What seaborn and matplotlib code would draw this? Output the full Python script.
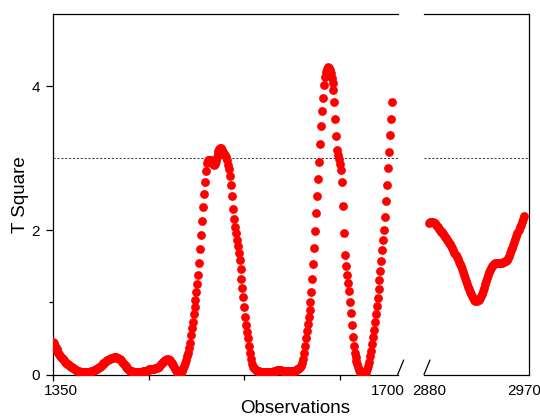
import numpy as np
import pandas as pd
import matplotlib
matplotlib.use("Agg")
import matplotlib.pyplot as plt
import matplotlib.transforms as mtransforms
import seaborn as sns

sns.set_style("white")
plt.rcParams["font.family"] = ["Liberation Sans", "DejaVu Sans"]

# ---------------- data ----------------
obs_left_start = 1350
t2_left = [
    0.45, 0.43, 0.40, 0.37, 0.35, 0.32, 0.30, 0.28, 0.26, 0.245,
    0.23, 0.215, 0.20, 0.18, 0.165, 0.15, 0.14, 0.13, 0.12, 0.11,
    0.10, 0.09, 0.08, 0.07, 0.06, 0.055, 0.05, 0.045, 0.04, 0.04,
    0.035, 0.035, 0.035, 0.035, 0.035, 0.035, 0.035, 0.04, 0.04, 0.04,
    0.045, 0.05, 0.055, 0.06, 0.065, 0.07, 0.08, 0.09, 0.10, 0.11,
    0.12, 0.13, 0.14, 0.155, 0.165, 0.175, 0.185, 0.195, 0.205, 0.21,
    0.22, 0.225, 0.23, 0.235, 0.24, 0.24, 0.24, 0.235, 0.23, 0.22,
    0.21, 0.195, 0.18, 0.165, 0.15, 0.13, 0.115, 0.10, 0.085, 0.075,
    0.065, 0.055, 0.05, 0.045, 0.04, 0.04, 0.04, 0.04, 0.04, 0.04,
    0.04, 0.04, 0.04, 0.04, 0.045, 0.045, 0.05, 0.05, 0.055, 0.06,
    0.065, 0.07, 0.07, 0.075, 0.075, 0.08, 0.08, 0.085, 0.09, 0.095,
    0.10, 0.11, 0.125, 0.14, 0.155, 0.17, 0.185, 0.195, 0.205, 0.21,
    0.21, 0.205, 0.195, 0.18, 0.165, 0.145, 0.125, 0.10, 0.08, 0.06,
    0.04, 0.025, 0.015, 0.01, 0.02, 0.05, 0.09, 0.12, 0.155, 0.20,
    0.25, 0.30, 0.37, 0.43, 0.55, 0.64, 0.73, 0.84, 0.94, 1.04,
    1.14, 1.25, 1.38, 1.55, 1.74, 1.94, 2.13, 2.32, 2.50, 2.67,
    2.82, 2.93, 2.97, 2.98, 2.98, 2.97, 2.94, 2.92, 2.90, 2.92,
    2.96, 3.01, 3.06, 3.10, 3.13, 3.14, 3.14, 3.12, 3.09, 3.06,
    3.04, 3.01, 2.97, 2.91, 2.85, 2.76, 2.63, 2.47, 2.30, 2.16,
    2.05, 1.96, 1.87, 1.78, 1.69, 1.59, 1.46, 1.33, 1.20, 1.07,
    0.93, 0.80, 0.69, 0.59, 0.50, 0.40, 0.30, 0.21, 0.15, 0.11,
    0.09, 0.07, 0.06, 0.055, 0.05, 0.045, 0.04, 0.04, 0.04, 0.04,
    0.04, 0.04, 0.04, 0.04, 0.04, 0.04, 0.04, 0.04, 0.04, 0.04,
    0.04, 0.045, 0.05, 0.055, 0.06, 0.065, 0.065, 0.065, 0.06, 0.055,
    0.05, 0.045, 0.045, 0.045, 0.045, 0.045, 0.045, 0.045, 0.045, 0.045,
    0.05, 0.05, 0.05, 0.05, 0.06, 0.07, 0.08, 0.09, 0.10, 0.12,
    0.16, 0.22, 0.30, 0.40, 0.50, 0.60, 0.70, 0.80, 0.90, 1.00,
    1.15, 1.33, 1.53, 1.76, 1.99, 2.24, 2.48, 2.71, 2.95, 3.20,
    3.44, 3.66, 3.84, 4.01, 4.13, 4.20, 4.24, 4.26, 4.25, 4.22,
    4.18, 4.11, 4.04, 3.94, 3.78, 3.54, 3.31, 3.12, 3.04, 2.99,
    2.92, 2.84, 2.67, 2.34, 1.96, 1.66, 1.50, 1.38, 1.27, 1.16,
    1.01, 0.85, 0.69, 0.52, 0.39, 0.30, 0.24, 0.19, 0.14, 0.10,
    0.06, 0.03, 0.01, 0.0, 0.0, 0.0, 0.01, 0.03, 0.07, 0.12,
    0.18, 0.25, 0.33, 0.42, 0.52, 0.62, 0.73, 0.84, 0.95, 1.06,
    1.18, 1.31, 1.44, 1.57, 1.72, 1.86, 2.00, 2.19, 2.40, 2.63,
    2.86, 3.09, 3.32, 3.55, 3.78,
]

obs_right_start = 2880
t2_right = [
    2.10, 2.11, 2.12, 2.12, 2.11, 2.10, 2.08, 2.06, 2.04, 2.02,
    2.00, 1.98, 1.97, 1.95, 1.93, 1.91, 1.89, 1.87, 1.85, 1.83,
    1.81, 1.78, 1.75, 1.72, 1.69, 1.66, 1.63, 1.60, 1.56, 1.53,
    1.50, 1.46, 1.42, 1.38, 1.34, 1.30, 1.26, 1.22, 1.18, 1.15,
    1.12, 1.09, 1.06, 1.04, 1.02, 1.02, 1.03, 1.04, 1.06, 1.09,
    1.12, 1.16, 1.20, 1.25, 1.29, 1.34, 1.38, 1.42, 1.45, 1.48,
    1.50, 1.52, 1.53, 1.54, 1.54, 1.55, 1.55, 1.55, 1.55, 1.55,
    1.56, 1.56, 1.57, 1.58, 1.59, 1.61, 1.64, 1.68, 1.72, 1.76,
    1.80, 1.84, 1.88, 1.92, 1.96, 2.00, 2.04, 2.08, 2.12, 2.16,
    2.20,
]

threshold = 3.0
left_tick_labels = ["1350", "1700"]
right_tick_labels = ["2880", "2970"]
y_tick_labels = ["0", "2", "4"]

obs_left = np.arange(obs_left_start, obs_left_start + len(t2_left))
obs_right = np.arange(obs_right_start, obs_right_start + len(t2_right))
df_left = pd.DataFrame({"Observations": obs_left, "T Square": t2_left})
df_right = pd.DataFrame({"Observations": obs_right, "T Square": t2_right})

# ---------------- figure ----------------
W, H = 540, 416
fig = plt.figure(figsize=(W / 100, H / 100), dpi=100)
bottom = 1 - 374.5 / H
height = 360.5 / H
ax1 = fig.add_axes([52.7 / W, bottom, 345 / W, height])
ax2 = fig.add_axes([424 / W, bottom, 105 / W, height])

red = "#ff0000"
sns.scatterplot(data=df_left, x="Observations", y="T Square", ax=ax1,
                color=red, s=40, linewidth=0, legend=False, zorder=3)
sns.scatterplot(data=df_right, x="Observations", y="T Square", ax=ax2,
                color=red, s=40, linewidth=0, legend=False, zorder=3)

dash = dict(color="#333333", lw=0.7, ls=(0, (2.2, 1.8)), zorder=2)
ax1.axhline(threshold, **dash)
ax2.axhline(threshold, **dash)

for ax in (ax1, ax2):
    ax.set_ylim(0, 5)
    ax.set_xlabel("")
    ax.set_ylabel("")
    ax.set_facecolor("white")
    for sp in ax.spines.values():
        sp.set_linewidth(0.9)
        sp.set_color("black")
ax1.set_xlim(1350, 1710)
ax2.set_xlim(2875, 2975)
ax1.spines["right"].set_visible(False)
ax2.spines["left"].set_visible(False)

# ticks, left panel
ax1.set_xticks([1350, 1700])
ax1.set_xticklabels(left_tick_labels)
ax1.set_xticks([1450, 1550, 1650], minor=True)
ax1.set_yticks([0, 2, 4])
ax1.set_yticklabels(y_tick_labels)
ax1.set_yticks([1], minor=True)
ax1.tick_params(axis="x", which="major", bottom=True, direction="out",
                length=4.3, width=0.9, pad=2.5, labelsize=11, colors="black")
ax1.tick_params(axis="x", which="minor", bottom=True, direction="out",
                length=3.6, width=0.9, colors="black")
ax1.tick_params(axis="y", which="major", left=True, direction="out",
                length=5.2, width=0.9, pad=4, labelsize=11, colors="black")
ax1.tick_params(axis="y", which="minor", left=True, direction="out",
                length=3.0, width=0.9, colors="black")
ax1.xaxis.get_major_ticks()[1].tick1line.set_visible(False)

# ticks, right panel
ax2.set_yticks([])
ax2.set_xticks([2880, 2970])
ax2.set_xticklabels(right_tick_labels)
ax2.tick_params(axis="x", which="major", bottom=True, direction="out",
                length=4.3, width=0.9, pad=2.5, labelsize=11, colors="black")
for t in ax2.xaxis.get_major_ticks():
    t.tick1line.set_visible(False)

offset = mtransforms.ScaledTranslation(8 / 100, 0, fig.dpi_scale_trans)
lab = ax1.get_xticklabels()[0]
lab.set_transform(lab.get_transform() + offset)

# break marks
ax1.plot([1, 1 + 6 / 345], [0, 14.5 / 360.5], color="black", lw=0.9,
         clip_on=False, transform=ax1.transAxes)
ax2.plot([0, 6 / 105], [0, 14.5 / 360.5], color="black", lw=0.9,
         clip_on=False, transform=ax2.transAxes)

ax1.set_ylabel("T Square", fontsize=13.5, color="black")
ax1.yaxis.set_label_coords(-0.070, 0.5)
fig.text(295 / W, 1 - 413 / H, "Observations", ha="center", va="baseline",
         fontsize=13.5, color="black")

fig.savefig("out.png", dpi=100)
